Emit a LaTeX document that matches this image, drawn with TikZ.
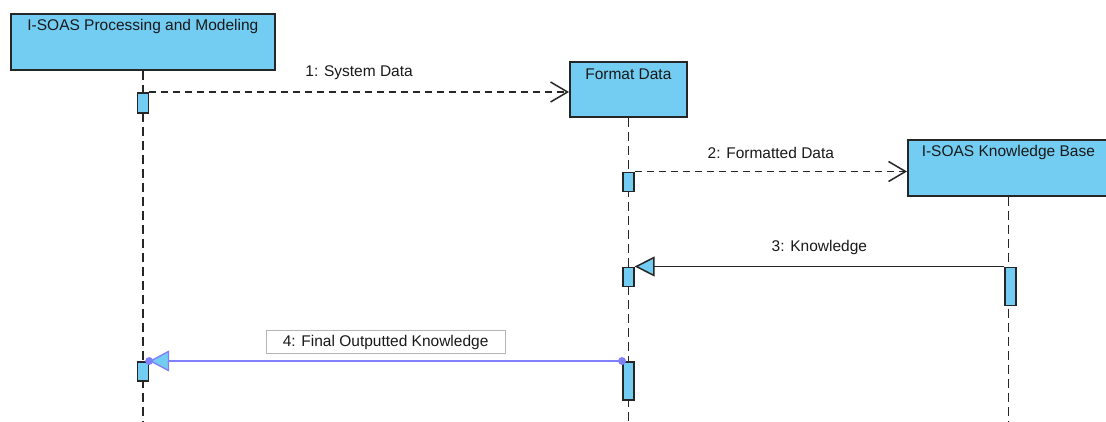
\documentclass[tikz,border=0pt]{standalone}
\usepackage{fontspec}
\setmainfont{Liberation Sans}
\usetikzlibrary{arrows.meta,calc}
\definecolor{objfill}{HTML}{73CDF2}
\definecolor{edgecol}{HTML}{262626}
\definecolor{msgblue}{HTML}{8080FF}
\definecolor{lblgray}{HTML}{B4B4B4}
\begin{document}
\begin{tikzpicture}[x=1pt,y=-1pt,
  font=\fontsize{15.5}{18}\selectfont,
  objbox/.style={draw=edgecol, fill=objfill, line width=1.7pt, anchor=north west, inner sep=0pt},
  actbox/.style={draw=edgecol, fill=objfill, line width=1.6pt, anchor=north, inner sep=0pt, minimum width=11pt},
  lifeline/.style={draw=edgecol, line width=1.5pt, dash pattern=on 9pt off 5pt},
  msgdash/.style={draw=edgecol, line width=1.5pt, dash pattern=on 7pt off 5pt,
    -{Straight Barb[length=17pt,width=20pt,line width=1.5pt]}},
  msgsolid/.style={draw=edgecol, line width=1.5pt,
    -{Triangle[length=20pt,width=20pt,fill=objfill,line width=1.5pt]}},
  msgblueline/.style={draw=msgblue, line width=1.6pt,
    -{Triangle[length=20pt,width=21pt,fill=objfill,line width=1.4pt]}},
  msglabel/.style={text=black!90, yshift=19pt, inner sep=2pt},
  lblbox/.style={draw=lblgray, fill=white, line width=1.1pt, minimum width=239pt, minimum height=23pt, inner sep=0pt}
]
\useasboundingbox (0,0) rectangle (1106,421);
% objects
\node[objbox, minimum width=264pt, minimum height=56pt,
  label={[anchor=center,yshift=-13pt,text=black!90]north:I-SOAS Processing and Modeling}] (b1) at (10,13) {};
\node[objbox, minimum width=117pt, minimum height=55pt,
  label={[anchor=center,yshift=-13pt,text=black!90]north:Format Data}] (b2) at (569,61) {};
\node[objbox, minimum width=201pt, minimum height=56pt,
  label={[anchor=center,yshift=-13pt,text=black!90]north:I-SOAS Knowledge Base}] (b3) at (907,139) {};
% lifelines
\coordinate (e1) at (b1.south |- 0,421);
\coordinate (e2) at (b2.south |- 0,421);
\coordinate (e3) at (b3.south |- 0,421);
\draw[lifeline] (b1.south) -- (e1);
\draw[lifeline] (b2.south) -- (e2);
\draw[lifeline] (b3.south) -- (e3);
% activations
\node[actbox, minimum height=20pt] (a1) at (b1.south |- 0,92) {};
\node[actbox, minimum height=19pt] (a2) at (b1.south |- 0,361) {};
\node[actbox, minimum height=19pt] (f1) at (b2.south |- 0,171.5) {};
\node[actbox, minimum height=19pt] (f2) at (b2.south |- 0,266.5) {};
\node[actbox, minimum height=38pt] (f3) at (b2.south |- 0,361) {};
\node[actbox, minimum height=38pt] (k1) at ($(b3.south |- 0,266.5)+(2,0)$) {};
% messages
\draw[msgdash] (a1.north east) -- (a1.north east -| b2.west)
  node[msglabel, midway] {1: System Data};
\draw[msgdash] (f1.north east) -- (f1.north east -| b3.west)
  node[msglabel, midway] {2: Formatted Data};
\draw[msgsolid] (k1.north west) -- (f2.north east)
  node[msglabel, midway] {3: Knowledge};
\draw[msgblueline] (f3.north west) -- (a2.north east)
  node[lblbox, midway, yshift=19pt, text=black!90] {4: Final Outputted Knowledge};
\fill[msgblue] (f3.north west) circle (4pt);
\fill[msgblue] (a2.north east) circle (4pt);
\end{tikzpicture}
\end{document}
